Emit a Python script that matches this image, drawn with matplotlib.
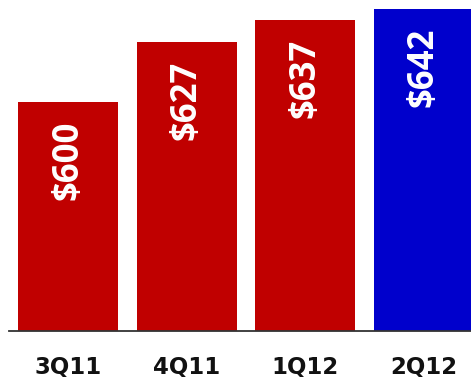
import matplotlib
matplotlib.use("Agg")
import matplotlib.pyplot as plt

categories = ["3Q11", "4Q11", "1Q12", "2Q12"]
values = [600, 627, 637, 642]
labels = ["$600", "$627", "$637", "$642"]
colors = ["#C00000", "#C00000", "#C00000", "#0000CC"]

fig = plt.figure(figsize=(4.71, 3.88), dpi=100)
ax = fig.add_axes([9 / 471, 57 / 388, 1 - 9 / 471, 331 / 388])

x = list(range(len(categories)))
bars = ax.bar(x, values, width=0.844, color=colors, zorder=2)

for xi, v, lab in zip(x, values, labels):
    ax.annotate(lab, xy=(xi, v), xytext=(0, -13.5), textcoords="offset points",
                rotation=90, ha="center", va="top", color="white",
                fontsize=25, fontweight="bold", family=["Open Sans", "DejaVu Sans"])

ax.set_xlim(-0.498, 3.40)
ax.set_ylim(496.6, 646.1)
ax.set_xticks(x)
ax.set_xticklabels(categories, fontsize=16.5, fontweight="bold", family="DejaVu Sans", color="#111111")
ax.tick_params(axis="x", length=0, pad=18)
ax.set_yticks([])
for s in ["top", "right", "left"]:
    ax.spines[s].set_visible(False)
ax.spines["bottom"].set_color("#333333")
ax.spines["bottom"].set_linewidth(1.3)
ax.patch.set_alpha(0)

fig.savefig("out.png", dpi=100)
